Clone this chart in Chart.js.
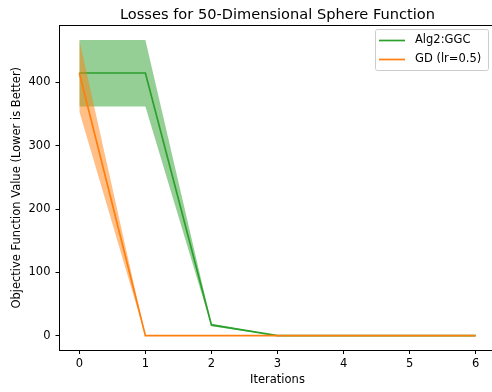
<!DOCTYPE html>
<html>
<head>
<meta charset="utf-8">
<script src="https://cdn.jsdelivr.net/npm/chart.js@4"></script>
<style>
  html, body { margin: 0; padding: 0; background: #fff; overflow: hidden; }
</style>
</head>
<body>
<canvas id="losses" width="500" height="392"></canvas>
<script>
// mean loss per iteration, with the shaded band around each run
const iterations = [0, 1, 2, 3, 4, 5, 6];
const ggcMean  = [415, 415, 17, 0, 0, 0, 0];
const ggcUpper = [467, 467, 19, 0, 0, 0, 0];
const ggcLower = [362, 362, 15, 0, 0, 0, 0];
const gdMean   = [415, 0, 0, 0, 0, 0, 0];
const gdUpper  = [467, 0, 0, 0, 0, 0, 0];
const gdLower  = [354, 0, 0, 0, 0, 0, 0];
const yTicks = [0, 100, 200, 300, 400];
const xTicks = iterations;
const chartTitle = 'Losses for 50-Dimensional Sphere Function';

const GREEN = '#2ca02c';
const ORANGE = '#ff7f0e';
const FONT = 'DejaVu Sans';

function pts(arr) {
  return iterations.map((x, i) => ({ x: x, y: arr[i] }));
}

function band(arr, colour, fill, order) {
  return {
    data: pts(arr),
    borderWidth: 0,
    pointRadius: 0,
    backgroundColor: colour,
    fill: fill,
    order: order,
    isBand: true
  };
}

// matplotlib-style frame, title over the axes and legend box inside them
const frame = {
  id: 'frame',
  afterDatasetsDraw(chart) {
    const a = chart.chartArea;
    const c = chart.ctx;
    const right = a.left + 436;
    c.save();
    c.strokeStyle = '#000';
    c.lineWidth = 1;
    c.beginPath();
    c.moveTo(a.left, 25.5);
    c.lineTo(right, 25.5);
    c.lineTo(right, a.bottom);
    c.stroke();

    c.fillStyle = '#000';
    c.font = '14.6px "' + FONT + '"';
    c.textAlign = 'center';
    c.textBaseline = 'alphabetic';
    c.fillText(chartTitle, (a.left + right) / 2, 18.5);

    // legend
    const lines = chart.data.datasets.filter(d => !d.isBand);
    const bx = 375.5, by = 29.5, bw = 113, bh = 41;
    c.fillStyle = 'rgba(255,255,255,0.8)';
    c.strokeStyle = '#cccccc';
    c.lineWidth = 1;
    c.beginPath();
    c.roundRect(bx, by, bw, bh, 2);
    c.fill();
    c.stroke();
    c.font = '11.5px "' + FONT + '"';
    c.textAlign = 'left';
    c.textBaseline = 'middle';
    lines.forEach((d, i) => {
      const y = 40.5 + i * 19;
      c.strokeStyle = d.borderColor;
      c.lineWidth = 1.7;
      c.beginPath();
      c.moveTo(379, y);
      c.lineTo(405, y);
      c.stroke();
      c.fillStyle = '#000';
      c.fillText(d.label, 415, y);
    });
    c.restore();
  }
};

const ctx = document.getElementById('losses').getContext('2d');
new Chart(ctx, {
  type: 'line',
  data: {
    datasets: [
      band(ggcUpper, 'rgba(44,160,44,0.5)', false, 5),
      band(ggcLower, 'rgba(44,160,44,0.5)', '-1', 4),
      {
        label: 'Alg2:GGC',
        data: pts(ggcMean),
        borderColor: GREEN,
        borderWidth: 1.7,
        pointRadius: 0,
        fill: false,
        order: 3
      },
      band(gdUpper, 'rgba(255,127,14,0.5)', false, 2),
      band(gdLower, 'rgba(255,127,14,0.5)', '-1', 1),
      {
        label: 'GD (lr=0.5)',
        data: pts(gdMean),
        borderColor: ORANGE,
        borderWidth: 1.7,
        pointRadius: 0,
        fill: false,
        order: 0
      }
    ]
  },
  options: {
    responsive: false,
    animation: false,
    events: [],
    layout: { padding: { left: 0, right: 4.5, top: 25.5, bottom: 0 } },
    elements: { line: { tension: 0 } },
    plugins: {
      legend: { display: false },
      tooltip: { enabled: false },
      title: { display: false }
    },
    scales: {
      x: {
        type: 'linear',
        min: -0.3,
        max: 6.3,
        afterBuildTicks: s => { s.ticks = xTicks.map(v => ({ value: v })); },
        afterFit: s => { s.height = 42; },
        grid: { drawOnChartArea: false, drawTicks: true, tickLength: 4, tickColor: '#000' },
        border: { display: true, color: '#000', width: 1 },
        ticks: { color: '#000', padding: 3, font: { family: FONT, size: 11.5 } },
        title: {
          display: true,
          text: 'Iterations',
          color: '#000',
          font: { family: FONT, size: 11.5 },
          padding: { top: 0, bottom: 5 }
        }
      },
      y: {
        min: -22.6,
        max: 490,
        afterBuildTicks: s => { s.ticks = yTicks.map(v => ({ value: v })); },
        afterFit: s => { s.width = 59.5; },
        grid: { drawOnChartArea: false, drawTicks: true, tickLength: 4, tickColor: '#000' },
        border: { display: true, color: '#000', width: 1 },
        ticks: { color: '#000', padding: 5, font: { family: FONT, size: 11.5 } },
        title: {
          display: true,
          text: 'Objective Function Value (Lower is Better)',
          color: '#000',
          font: { family: FONT, size: 11.5 },
          padding: { top: 10, bottom: 0 }
        }
      }
    }
  },
  plugins: [frame]
});
</script>
</body>
</html>
